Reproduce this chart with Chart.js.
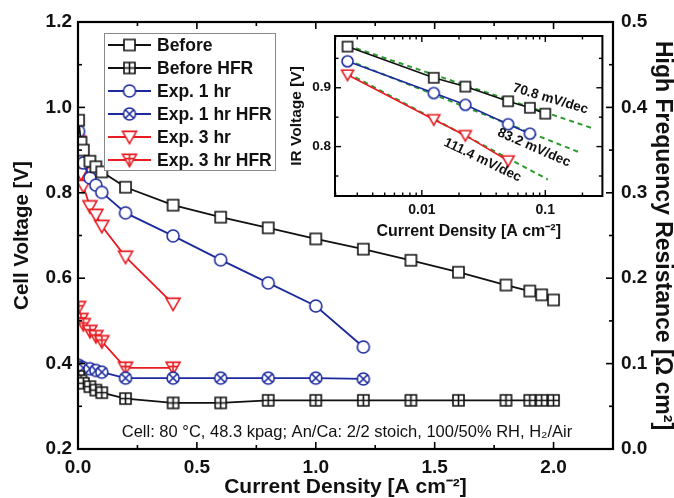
<!DOCTYPE html>
<html lang="en">
<head>
<meta charset="UTF-8" />
<title>Polarization and HFR</title>
<script src="https://cdn.jsdelivr.net/npm/chart.js"></script>
<style>
  body { margin: 0; background: #fff; }
  #wrap { position: relative; width: 674px; height: 498px; background: #fff; }
  #mainChart { position: absolute; left: 0; top: 0; }
  #insetChart { position: absolute; left: 280px; top: 20px; }
</style>
</head>
<body>
<div id="wrap">
  <canvas id="mainChart" width="674" height="498"></canvas>
  <canvas id="insetChart" width="330" height="230"></canvas>
</div>
<script>
// polarization curves [A cm-2] / [V] and HFR [Ohm cm2]
const currentBefore = [0.0025, 0.0125, 0.0225, 0.05, 0.075, 0.1, 0.2, 0.4, 0.6, 0.8, 1.0, 1.2, 1.4, 1.6, 1.8, 1.9, 1.95, 2.0];
const voltBefore = [0.970, 0.918, 0.900, 0.874, 0.861, 0.849, 0.813, 0.771, 0.743, 0.718, 0.692, 0.668, 0.642, 0.614, 0.584, 0.570, 0.561, 0.549];
const hfrBefore = [0.085, 0.080, 0.077, 0.073, 0.069, 0.066, 0.059, 0.054, 0.054, 0.057, 0.057, 0.057, 0.057, 0.057, 0.057, 0.057, 0.057, 0.057];

const currentExp1 = [0.0025, 0.0125, 0.0225, 0.05, 0.075, 0.1, 0.2, 0.4, 0.6, 0.8, 1.0, 1.2];
const voltExp1 = [0.944, 0.890, 0.870, 0.835, 0.818, 0.801, 0.753, 0.699, 0.643, 0.589, 0.535, 0.439];
const hfrExp1 = [0.098, 0.096, 0.095, 0.094, 0.092, 0.090, 0.083, 0.083, 0.083, 0.083, 0.083, 0.082];

const currentExp3 = [0.0025, 0.0125, 0.0225, 0.05, 0.075, 0.1, 0.2, 0.4];
const voltExp3 = [0.920, 0.845, 0.816, 0.768, 0.748, 0.722, 0.650, 0.540];
const hfrExp3 = [0.166, 0.152, 0.146, 0.138, 0.132, 0.126, 0.095, 0.095];

// Tafel region (iR-free voltage)
const tafelCurrent = [0.0025, 0.0125, 0.0225, 0.05, 0.075, 0.1];
const irBefore = [0.970, 0.917, 0.902, 0.877, 0.866, 0.856];
const irExp1 = [0.945, 0.891, 0.871, 0.838, 0.822];
const irExp3 = [0.922, 0.846, 0.819, 0.776];
const fitCurrentBefore = [0.0025, 0.25];
const fitBefore = [0.972, 0.830];
const fitCurrentExp1 = [0.0025, 0.19];
const fitExp1 = [0.947, 0.790];
const fitCurrentExp3 = [0.0025, 0.105];
const fitExp3 = [0.925, 0.744];
const slopeLabels = ['70.8 mV/dec', '83.2 mV/dec', '111.4 mV/dec'];

// axis ticks
const currentTicks = [0, 0.5, 1.0, 1.5, 2.0];
const voltTicks = [0.2, 0.4, 0.6, 0.8, 1.0, 1.2];
const hfrTicks = [0, 0.1, 0.2, 0.3, 0.4, 0.5];
const insetCurrentTicks = [0.01, 0.1];
const insetVoltTicks = [0.8, 0.9];

const BLACK = '#111111';
const BLUE = '#1c2a9e';
const RED = '#e81c22';
const GREEN = '#2e9a2e';
const FONT = 'Arial, "Liberation Sans", sans-serif';
Chart.defaults.font.family = FONT;
Chart.defaults.color = '#111';

function zip(xs, ys) {
  return ys.map((y, i) => ({ x: xs[i], y: y }));
}

// marker sprites: open square, square with cross, circle, circle with X, down triangle, down triangle with cross
function makeMarker(kind, color, size) {
  const pad = 3;
  const c = document.createElement('canvas');
  c.width = c.height = size + pad * 2;
  const ctx = c.getContext('2d');
  const m = c.width / 2, h = size / 2;
  ctx.strokeStyle = color;
  ctx.fillStyle = '#fff';
  ctx.lineWidth = 1.6;
  ctx.beginPath();
  if (kind.startsWith('square')) {
    ctx.rect(m - h, m - h, size, size);
  } else if (kind.startsWith('circle')) {
    ctx.arc(m, m, h, 0, Math.PI * 2);
  } else {
    ctx.moveTo(m - h, m - h * 0.8);
    ctx.lineTo(m + h, m - h * 0.8);
    ctx.lineTo(m, m + h * 0.95);
    ctx.closePath();
  }
  ctx.fill();
  ctx.stroke();
  ctx.beginPath();
  if (kind === 'squareCross') {
    ctx.moveTo(m - h, m); ctx.lineTo(m + h, m);
    ctx.moveTo(m, m - h); ctx.lineTo(m, m + h);
  } else if (kind === 'circleX') {
    const d = h * 0.7;
    ctx.moveTo(m - d, m - d); ctx.lineTo(m + d, m + d);
    ctx.moveTo(m + d, m - d); ctx.lineTo(m - d, m + d);
  } else if (kind === 'triangleCross') {
    ctx.moveTo(m - h * 0.6, m - h * 0.2); ctx.lineTo(m + h * 0.6, m - h * 0.2);
    ctx.moveTo(m, m - h * 0.8); ctx.lineTo(m, m + h * 0.95);
  }
  ctx.stroke();
  return c;
}

const mk = {
  before: makeMarker('square', BLACK, 11),
  beforeHfr: makeMarker('squareCross', BLACK, 11),
  exp1: makeMarker('circle', BLUE, 12),
  exp1Hfr: makeMarker('circleX', BLUE, 12),
  exp3: makeMarker('triangle', RED, 14),
  exp3Hfr: makeMarker('triangleCross', RED, 14)
};
const mkSmall = {
  before: makeMarker('square', BLACK, 10),
  exp1: makeMarker('circle', BLUE, 11),
  exp3: makeMarker('triangle', RED, 12)
};

function series(label, xs, ys, color, marker, axis) {
  return {
    label: label,
    data: zip(xs, ys),
    yAxisID: axis,
    borderColor: color,
    borderWidth: 1.8,
    pointStyle: marker,
    pointRadius: 6,
    showLine: true,
    tension: 0
  };
}

const mainSeries = [
  series('Before', currentBefore, voltBefore, BLACK, mk.before, 'y'),
  series('Before HFR', currentBefore, hfrBefore, BLACK, mk.beforeHfr, 'y2'),
  series('Exp. 1 hr', currentExp1, voltExp1, BLUE, mk.exp1, 'y'),
  series('Exp. 1 hr HFR', currentExp1, hfrExp1, BLUE, mk.exp1Hfr, 'y2'),
  series('Exp. 3 hr', currentExp3, voltExp3, RED, mk.exp3, 'y'),
  series('Exp. 3 hr HFR', currentExp3, hfrExp3, RED, mk.exp3Hfr, 'y2')
];

function line(ctx, x1, y1, x2, y2) {
  ctx.beginPath();
  ctx.moveTo(x1, y1);
  ctx.lineTo(x2, y2);
  ctx.stroke();
}

// frame with inward ticks on all four sides
const mainFrame = {
  id: 'mainFrame',
  afterDraw(chart) {
    const { ctx, chartArea: a, scales } = chart;
    ctx.save();
    ctx.strokeStyle = '#000';
    ctx.lineWidth = 1.6;
    for (let v = 0; v <= 2.25 + 1e-9; v += 0.25) {
      const px = scales.x.getPixelForValue(v);
      const len = Math.abs(v % 0.5) < 1e-6 ? 7 : 4;
      line(ctx, px, a.bottom, px, a.bottom - len);
      line(ctx, px, a.top, px, a.top + len);
    }
    for (let v = 0.2; v <= 1.2 + 1e-9; v += 0.1) {
      const py = scales.y.getPixelForValue(v);
      const len = Math.round(v * 10) % 2 === 0 ? 7 : 4;
      line(ctx, a.left, py, a.left + len, py);
    }
    for (let v = 0; v <= 0.5 + 1e-9; v += 0.05) {
      const py = scales.y2.getPixelForValue(v);
      const len = Math.round(v * 100) % 10 === 0 ? 7 : 4;
      line(ctx, a.right, py, a.right - len, py);
    }
    ctx.lineWidth = 2.2;
    ctx.strokeRect(a.left, a.top, a.right - a.left, a.bottom - a.top);

    // legend box
    const lx = 104, ly = 33, lw = 171, lh = 137;
    ctx.fillStyle = '#fff';
    ctx.fillRect(lx, ly, lw, lh);
    ctx.strokeStyle = '#8a8a8a';
    ctx.lineWidth = 1;
    ctx.strokeRect(lx + 0.5, ly + 0.5, lw, lh);
    ctx.font = 'bold 17.5px ' + FONT;
    ctx.textBaseline = 'middle';
    ctx.textAlign = 'left';
    chart.data.datasets.forEach((ds, i) => {
      const y = ly + 12 + i * 23;
      ctx.strokeStyle = ds.borderColor;
      ctx.lineWidth = 1.8;
      line(ctx, lx + 4, y, lx + 47, y);
      const img = ds.pointStyle;
      ctx.drawImage(img, lx + 25.5 - img.width / 2, y - img.height / 2);
      ctx.fillStyle = '#111';
      ctx.fillText(ds.label, lx + 53, y + 1);
    });

    // operating conditions
    ctx.font = '16.5px ' + FONT;
    ctx.textAlign = 'center';
    ctx.fillStyle = '#111';
    ctx.fillText('Cell: 80 °C, 48.3 kpag; An/Ca: 2/2 stoich, 100/50% RH, H₂/Air', 347, 432);
    ctx.restore();
  }
};

function fixSize(prop, value) {
  return function (scale) { scale[prop] = value; };
}

const noGrid = { display: false, drawTicks: false };

new Chart(document.getElementById('mainChart'), {
  type: 'scatter',
  data: { datasets: mainSeries },
  options: {
    responsive: false,
    animation: false,
    layout: { padding: { top: 22, right: 0, left: 0, bottom: 0 } },
    plugins: { legend: { display: false }, tooltip: { enabled: false } },
    scales: {
      x: {
        type: 'linear', min: 0, max: 2.25,
        afterBuildTicks: s => { s.ticks = currentTicks.map(v => ({ value: v })); },
        afterFit: fixSize('height', 49),
        grid: noGrid, border: { display: false },
        ticks: { padding: 7, font: { size: 19, weight: 'bold' }, callback: v => v.toFixed(1), maxRotation: 0 },
        title: { display: true, text: 'Current Density [A cm⁻²]', padding: { top: 0, bottom: 0 }, font: { size: 21, weight: 'bold', lineHeight: 1 } }
      },
      y: {
        type: 'linear', position: 'left', min: 0.2, max: 1.2,
        afterBuildTicks: s => { s.ticks = voltTicks.map(v => ({ value: v })); },
        afterFit: fixSize('width', 78),
        grid: noGrid, border: { display: false },
        ticks: { padding: 6, font: { size: 19, weight: 'bold' }, callback: v => v.toFixed(1) },
        title: { display: true, text: 'Cell Voltage [V]', padding: { top: 12, bottom: 0 }, font: { size: 20.5, weight: 'bold', lineHeight: 1 } }
      },
      y2: {
        type: 'linear', position: 'right', min: 0, max: 0.5,
        afterBuildTicks: s => { s.ticks = hfrTicks.map(v => ({ value: v })); },
        afterFit: fixSize('width', 61),
        grid: noGrid, border: { display: false },
        ticks: { padding: 8, font: { size: 19, weight: 'bold' }, callback: v => v.toFixed(1) },
        title: { display: true, text: 'High Frequency Resistance [Ω cm²]', padding: { top: 0, bottom: 0 }, font: { size: 23, weight: 'bold', lineHeight: 1 } }
      }
    }
  },
  plugins: [mainFrame]
});

// inset: Tafel plot
function dashed(xs, ys) {
  return {
    data: zip(xs, ys),
    borderColor: GREEN,
    borderWidth: 2,
    borderDash: [5, 4],
    pointRadius: 0,
    showLine: true,
    order: 2
  };
}
function solid(ys, color, marker) {
  return {
    data: zip(tafelCurrent, ys),
    borderColor: color,
    borderWidth: 1.6,
    pointStyle: marker,
    pointRadius: 6,
    showLine: true,
    order: 1
  };
}

const insetFrame = {
  id: 'insetFrame',
  beforeDraw(chart) {
    const { ctx, chartArea: a } = chart;
    ctx.save();
    ctx.fillStyle = '#fff';
    ctx.fillRect(a.left, a.top, a.right - a.left, a.bottom - a.top);
    ctx.restore();
  },
  afterDraw(chart) {
    const { ctx, chartArea: a, scales } = chart;
    ctx.save();
    ctx.strokeStyle = '#000';
    ctx.lineWidth = 1.4;
    for (let dec = 0.001; dec < 1; dec *= 10) {
      for (let k = 1; k <= 9; k++) {
        const v = dec * k;
        if (v < scales.x.min || v > scales.x.max) continue;
        const px = scales.x.getPixelForValue(v);
        const len = k === 1 ? 6 : 3.5;
        line(ctx, px, a.bottom, px, a.bottom - len);
        line(ctx, px, a.top, px, a.top + len);
      }
    }
    for (let v = 0.75; v <= 0.96; v += 0.05) {
      const py = scales.y.getPixelForValue(v);
      const len = Math.round(v * 100) % 10 === 0 ? 6 : 3.5;
      line(ctx, a.left, py, a.left + len, py);
      line(ctx, a.right, py, a.right - len, py);
    }
    ctx.lineWidth = 2;
    ctx.strokeRect(a.left, a.top, a.right - a.left, a.bottom - a.top);

    // slope labels along the fits
    ctx.font = 'bold 13.5px ' + FONT;
    ctx.fillStyle = '#111';
    ctx.textAlign = 'center';
    ctx.textBaseline = 'middle';
    const spots = [[0.11, 0.881, 0.29], [0.081, 0.798, 0.41], [0.031, 0.777, 0.45]];
    spots.forEach((s, i) => {
      ctx.save();
      ctx.translate(scales.x.getPixelForValue(s[0]), scales.y.getPixelForValue(s[1]));
      ctx.rotate(s[2]);
      ctx.fillText(slopeLabels[i], 0, 0);
      ctx.restore();
    });
    ctx.restore();
  }
};

new Chart(document.getElementById('insetChart'), {
  type: 'scatter',
  data: {
    datasets: [
      solid(irBefore, BLACK, mkSmall.before),
      solid(irExp1, BLUE, mkSmall.exp1),
      solid(irExp3, RED, mkSmall.exp3),
      dashed(fitCurrentBefore, fitBefore),
      dashed(fitCurrentExp1, fitExp1),
      dashed(fitCurrentExp3, fitExp3)
    ]
  },
  options: {
    responsive: false,
    animation: false,
    layout: { padding: { top: 16, right: 5, left: 0, bottom: 0 } },
    plugins: { legend: { display: false }, tooltip: { enabled: false } },
    scales: {
      x: {
        type: 'logarithmic', min: 0.00198, max: 0.29,
        afterBuildTicks: s => { s.ticks = insetCurrentTicks.map(v => ({ value: v })); },
        afterFit: fixSize('height', 54),
        grid: noGrid, border: { display: false },
        ticks: { padding: 6, font: { size: 14, weight: 'bold' }, callback: v => String(v), maxRotation: 0 },
        title: { display: true, text: 'Current Density [A cm⁻²]', padding: { top: 0, bottom: 10 }, font: { size: 16, weight: 'bold', lineHeight: 1 } }
      },
      y: {
        type: 'linear', min: 0.716, max: 0.988,
        afterBuildTicks: s => { s.ticks = insetVoltTicks.map(v => ({ value: v })); },
        afterFit: fixSize('width', 55),
        grid: noGrid, border: { display: false },
        ticks: { padding: 4, font: { size: 13.5, weight: 'bold' }, callback: v => v.toFixed(1) },
        title: { display: true, text: 'IR Voltage [V]', padding: { top: 9, bottom: 0 }, font: { size: 15.5, weight: 'bold', lineHeight: 1 } }
      }
    }
  },
  plugins: [insetFrame]
});
</script>
</body>
</html>
